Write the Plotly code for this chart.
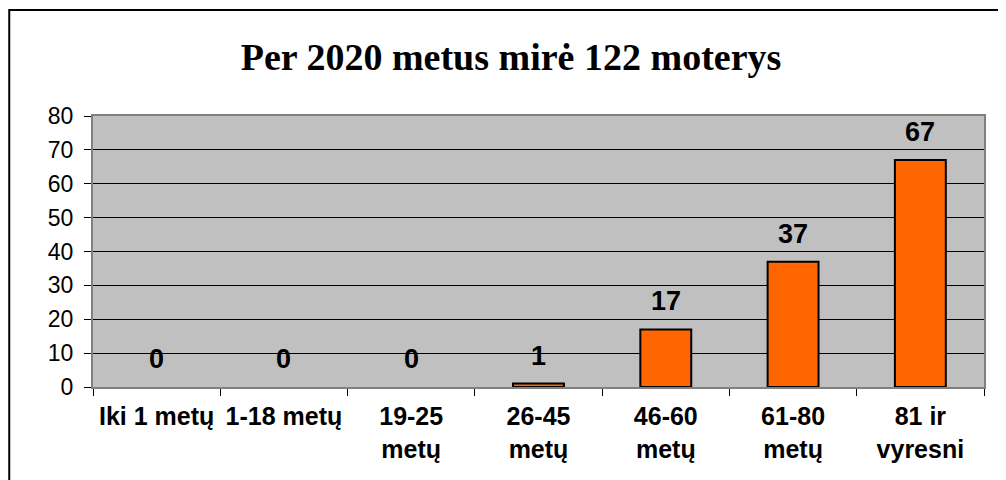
"""Per 2020 metus mirusios moterys pagal amžių"""

import plotly.graph_objects as go

CATEGORIES = ["Iki 1 metų", "1-18 metų", "19-25<br>metų", "26-45<br>metų",
              "46-60<br>metų", "61-80<br>metų", "81 ir<br>vyresni"]
DEATHS = [0, 0, 0, 1, 17, 37, 67]
Y_TICKS = [0, 10, 20, 30, 40, 50, 60, 70, 80]

BAR_COLOR = "#FF6600"
PLOT_BG = "#C0C0C0"
AXIS_GRAY = "#808080"
SANS = "Liberation Sans, Arial, sans-serif"

fig = go.Figure(
    go.Bar(
        x=CATEGORIES, y=DEATHS,
        marker=dict(
            color=BAR_COLOR,
            # nuliniai stulpeliai be kontūro
            line=dict(color="black", width=[2 if v > 0 else 0 for v in DEATHS]),
        ),
        width=0.4,
        hoverinfo="x+y",
    )
)

# reikšmių etiketės virš stulpelių
for cat, val in zip(CATEGORIES, DEATHS):
    fig.add_annotation(
        x=cat, y=val, text=f"<b>{val}</b>", showarrow=False,
        yanchor="middle", yshift=28,
        font=dict(family=SANS, size=27, color="black"),
    )

# rėmelis aplink visą paveikslą
fig.add_shape(
    type="rect", xref="paper", yref="paper",
    x0=-0.094, x1=1.05, y0=-0.45, y1=1.391,
    line=dict(color="black", width=2), fillcolor="rgba(0,0,0,0)",
    layer="below",
)

fig.update_layout(
    width=1006, height=480,
    margin=dict(l=85, r=30, t=108, b=101),
    paper_bgcolor="white",
    plot_bgcolor=PLOT_BG,
    showlegend=False,
    font=dict(family=SANS, size=22, color="black"),
    title=dict(
        text="<b>Per 2020 metus mirė 122 moterys</b>",
        font=dict(family="Liberation Serif, Times New Roman, serif", size=38, color="black"),
        x=0.5, xanchor="center", y=0.898, yanchor="middle",
    ),
    xaxis=dict(
        type="category",
        showline=True, linecolor=AXIS_GRAY, linewidth=2, mirror=True,
        ticks="outside", tickson="boundaries", ticklen=7, tickcolor="black",
        tickfont=dict(size=25, family=SANS),
        tickprefix="<b>", ticksuffix="</b>",
        ticklabelstandoff=6,
        showgrid=False,
    ),
    yaxis=dict(
        range=[0, 80], tickvals=Y_TICKS,
        showline=True, linecolor=AXIS_GRAY, linewidth=2, mirror=True,
        ticks="outside", ticklen=7, tickcolor="black",
        gridcolor="black", gridwidth=1,
        zeroline=False,
        tickfont=dict(size=23),
        ticklabelstandoff=6,
    ),
)

fig.write_html("out.html")
